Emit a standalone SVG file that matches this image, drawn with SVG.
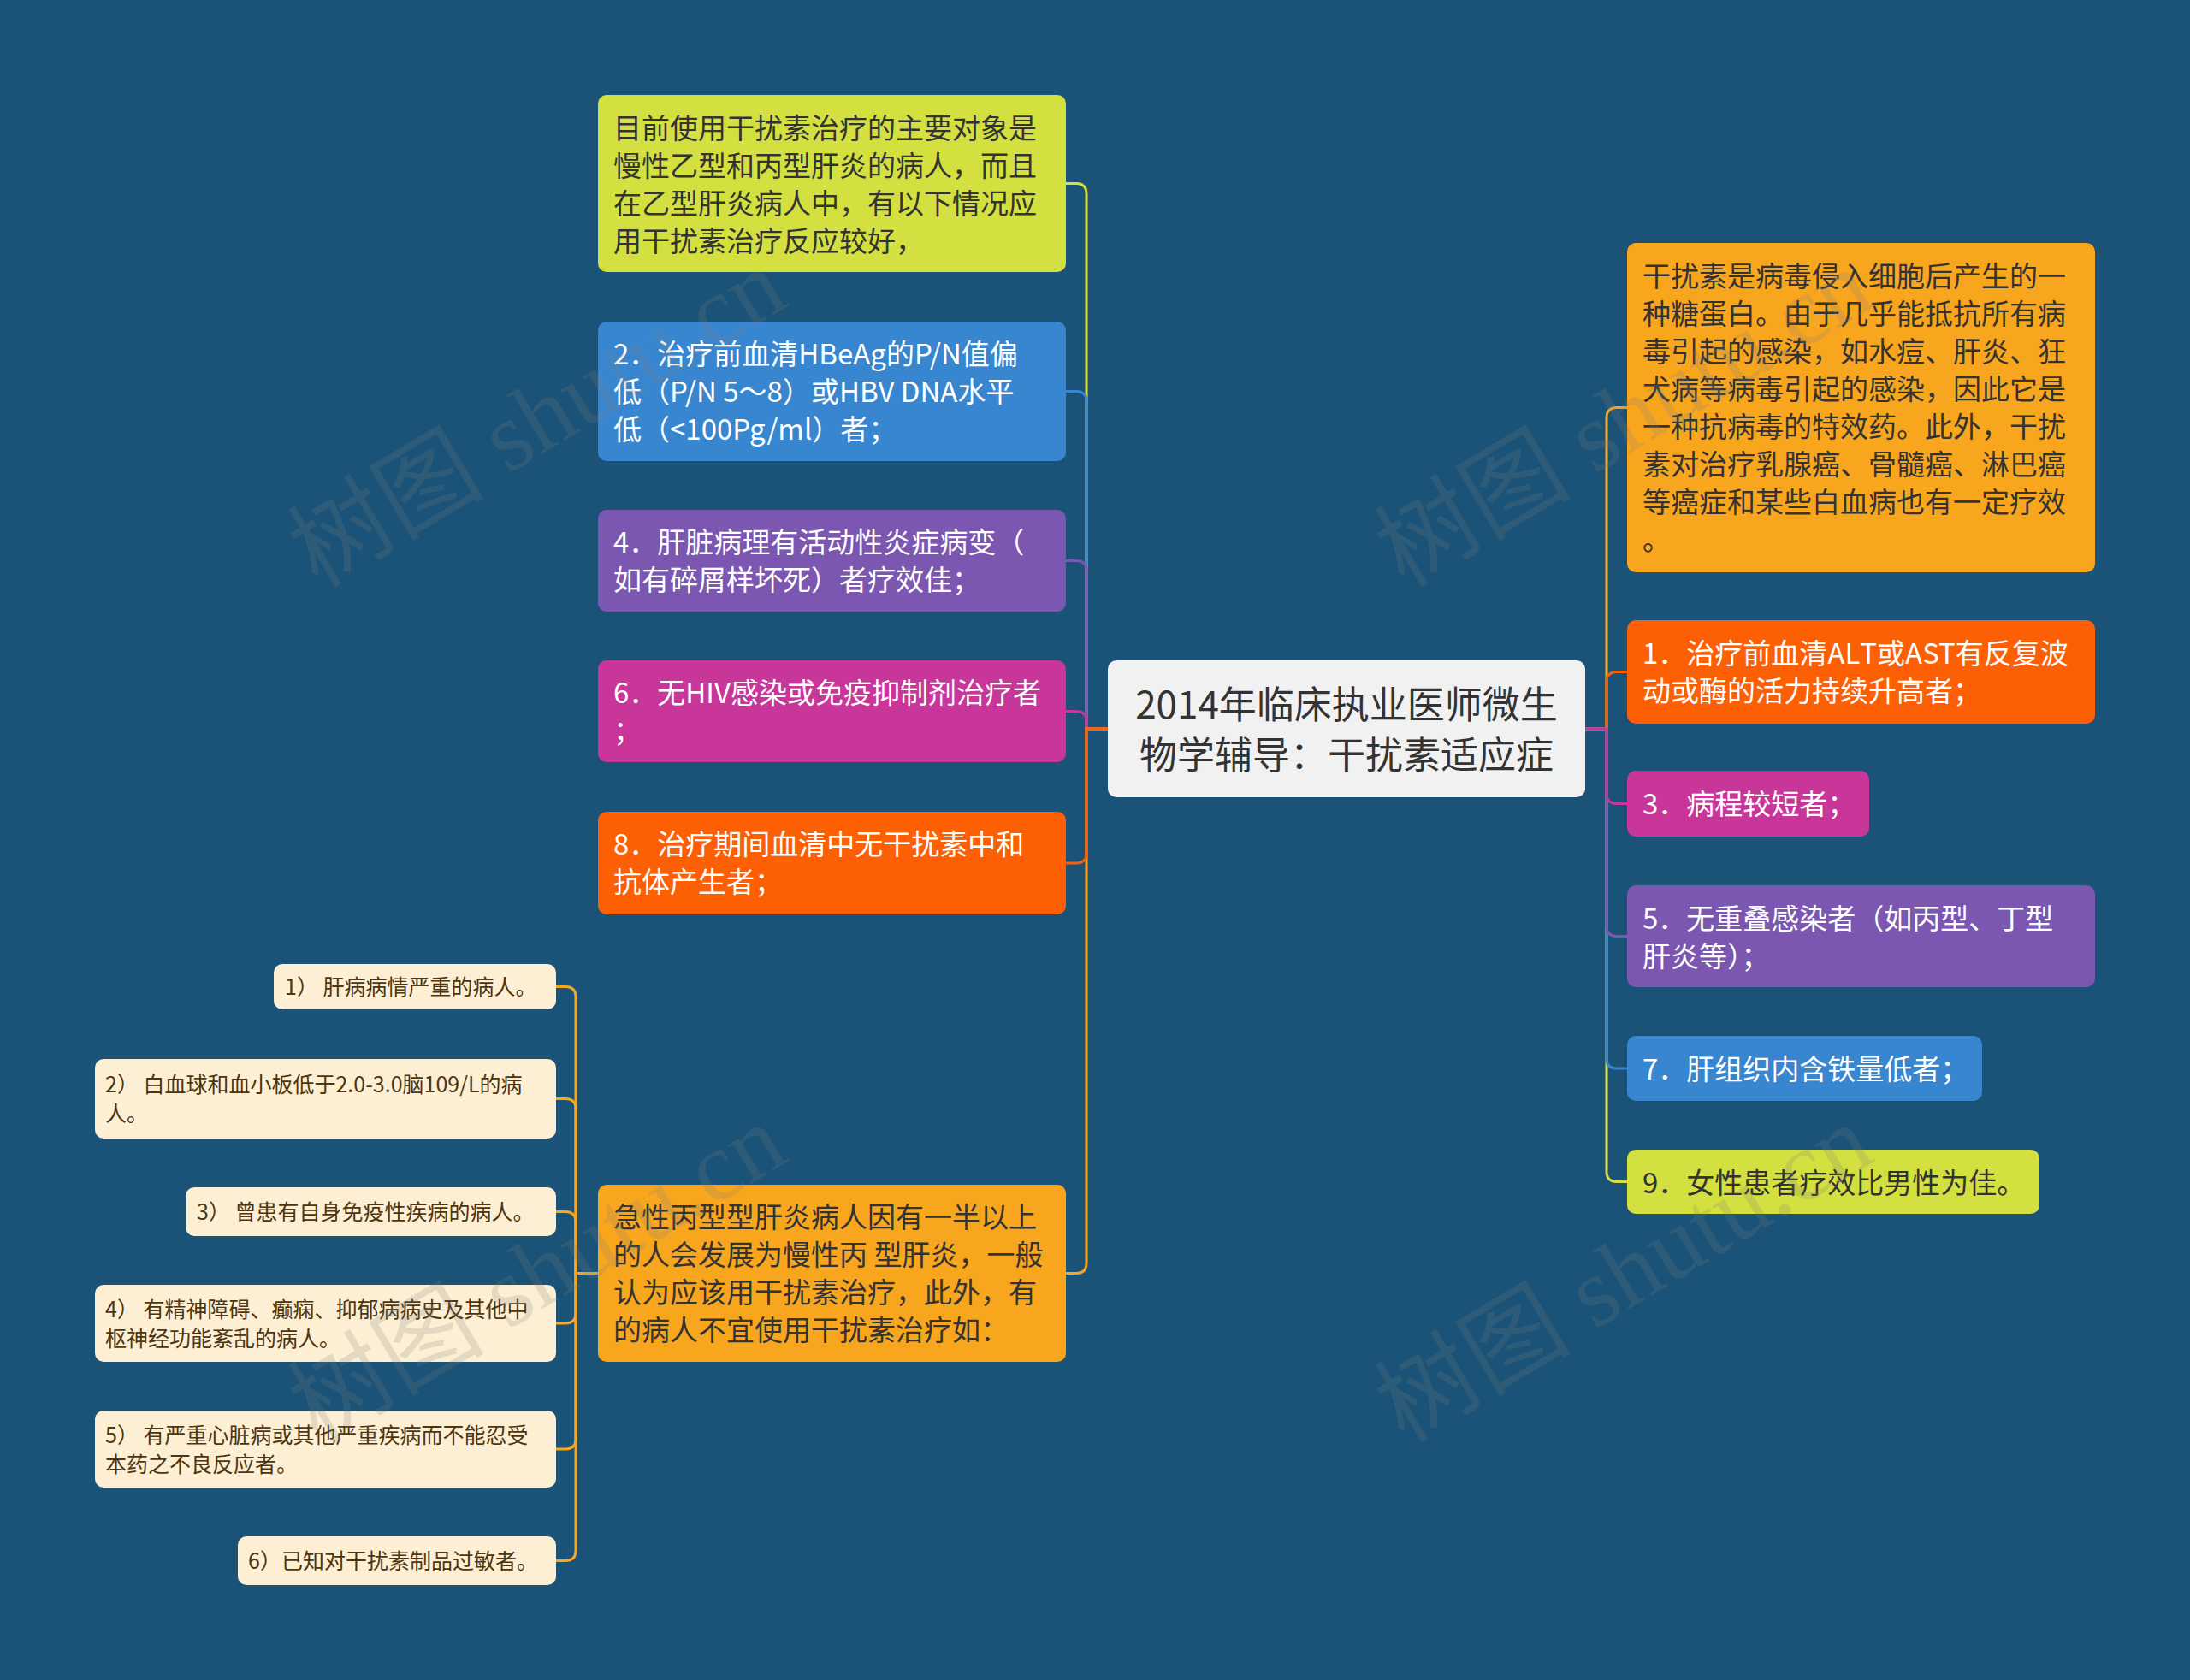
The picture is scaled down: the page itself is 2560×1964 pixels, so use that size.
<svg xmlns="http://www.w3.org/2000/svg" width="2560" height="1964" viewBox="0 0 2560 1964">
<style>
text{font-family:"Noto Sans CJK SC","Microsoft YaHei",sans-serif;}
.t33{font-size:33px;}
.t25{font-size:25px;fill:#4d3510;}
.dark{fill:#333333;}
.light{fill:#ffffff;}
.conn path{fill:none;stroke-width:3;}
.sub{fill:#fdefd4;}
.wm text{font-family:"Liberation Serif","Noto Sans CJK SC",serif;font-size:115px;fill:#808080;opacity:0.2;text-anchor:middle;}
</style>
<rect x="0" y="0" width="2560" height="1964" fill="#1a5377"/>

<g id="connectors" class="conn">
  <path stroke="#d4e03f" d="M1295 852 H1270 V226.5 Q1270 214.5 1258 214.5 H1246"/>
  <path stroke="#3886d0" d="M1295 852 H1270 V469.5 Q1270 457.5 1258 457.5 H1246"/>
  <path stroke="#7b57b1" d="M1295 852 H1270 V667.5 Q1270 655.5 1258 655.5 H1246"/>
  <path stroke="#c8369a" d="M1295 852 H1270 V843.5 Q1270 831.5 1258 831.5 H1246"/>
  <path stroke="#f9a61f" d="M1295 852 H1270 V1476.5 Q1270 1488.5 1258 1488.5 H1246"/>
  <path stroke="#fd5f04" d="M1295 852 H1270 V997 Q1270 1009 1258 1009 H1246"/>

  <path stroke="#f9a61f" d="M1853 852 H1878 V488.5 Q1878 476.5 1890 476.5 H1902"/>
  <path stroke="#fd5f04" d="M1853 852 H1878 V797.5 Q1878 785.5 1890 785.5 H1902"/>
  <path stroke="#d4e03f" d="M1853 852 H1878 V1369.5 Q1878 1381.5 1890 1381.5 H1902"/>
  <path stroke="#3886d0" d="M1853 852 H1878 V1237 Q1878 1249 1890 1249 H1902"/>
  <path stroke="#7b57b1" d="M1853 852 H1878 V1082.5 Q1878 1094.5 1890 1094.5 H1902"/>
  <path stroke="#c8369a" d="M1853 852 H1878 V927.5 Q1878 939.5 1890 939.5 H1902"/>

  <path stroke="#f9a61f" d="M699 1488.5 H673 V1165.5 Q673 1153.5 661 1153.5 H650"/>
  <path stroke="#f9a61f" d="M699 1488.5 H673 V1296.5 Q673 1284.5 661 1284.5 H650"/>
  <path stroke="#f9a61f" d="M699 1488.5 H673 V1428.5 Q673 1416.5 661 1416.5 H650"/>
  <path stroke="#f9a61f" d="M699 1488.5 H673 V1535 Q673 1547 661 1547 H650"/>
  <path stroke="#f9a61f" d="M699 1488.5 H673 V1682 Q673 1694 661 1694 H650"/>
  <path stroke="#f9a61f" d="M699 1488.5 H673 V1812.5 Q673 1824.5 661 1824.5 H650"/>
</g>

<g id="center">
  <rect x="1295" y="772" width="558" height="160" rx="10" fill="#f1f1f1"/>
  <text x="1574" y="840" font-size="44" fill="#333333" text-anchor="middle">2014年临床执业医师微生</text>
  <text x="1574" y="899" font-size="44" fill="#333333" text-anchor="middle">物学辅导：干扰素适应症</text>
</g>

<g id="L1">
  <rect x="699" y="111" width="547" height="207" rx="10" fill="#d4e03f"/>
  <text class="t33 dark" x="717" y="162">目前使用干扰素治疗的主要对象是</text>
  <text class="t33 dark" x="717" y="206">慢性乙型和丙型肝炎的病人，而且</text>
  <text class="t33 dark" x="717" y="250">在乙型肝炎病人中，有以下情况应</text>
  <text class="t33 dark" x="717" y="294">用干扰素治疗反应较好，</text>
</g>
<g id="L2">
  <rect x="699" y="376" width="547" height="163" rx="10" fill="#3886d0"/>
  <text class="t33 light" x="717" y="426">2．治疗前血清HBeAg的P/N值偏</text>
  <text class="t33 light" x="717" y="470">低（P/N 5～8）或HBV DNA水平</text>
  <text class="t33 light" x="717" y="514">低（&lt;100Pg/ml）者；</text>
</g>
<g id="L3">
  <rect x="699" y="596" width="547" height="119" rx="10" fill="#7b57b1"/>
  <text class="t33 light" x="717" y="646">4．肝脏病理有活动性炎症病变（</text>
  <text class="t33 light" x="717" y="690">如有碎屑样坏死）者疗效佳；</text>
</g>
<g id="L4">
  <rect x="699" y="772" width="547" height="119" rx="10" fill="#c8369a"/>
  <text class="t33 light" x="717" y="822">6．无HIV感染或免疫抑制剂治疗者</text>
  <text class="t33 light" x="717" y="866">；</text>
</g>
<g id="L5">
  <rect x="699" y="949" width="547" height="120" rx="10" fill="#fd5f04"/>
  <text class="t33 light" x="717" y="999">8．治疗期间血清中无干扰素中和</text>
  <text class="t33 light" x="717" y="1043">抗体产生者；</text>
</g>
<g id="L6">
  <rect x="699" y="1385" width="547" height="207" rx="10" fill="#f9a61f"/>
  <text class="t33 dark" x="717" y="1435">急性丙型型肝炎病人因有一半以上</text>
  <text class="t33 dark" x="717" y="1479">的人会发展为慢性丙 型肝炎，一般</text>
  <text class="t33 dark" x="717" y="1523">认为应该用干扰素治疗，此外，有</text>
  <text class="t33 dark" x="717" y="1567">的病人不宜使用干扰素治疗如：</text>
</g>

<g id="S1">
  <rect class="sub" x="320" y="1127" width="330" height="53" rx="10"/>
  <text class="t25" x="333" y="1163">1） 肝病病情严重的病人。</text>
</g>
<g id="S2">
  <rect class="sub" x="111" y="1238" width="539" height="93" rx="10"/>
  <text class="t25" x="123" y="1277">2） 白血球和血小板低于2.0-3.0脑109/L的病</text>
  <text class="t25" x="123" y="1311">人。</text>
</g>
<g id="S3">
  <rect class="sub" x="217" y="1388" width="433" height="57" rx="10"/>
  <text class="t25" x="230" y="1426">3） 曾患有自身免疫性疾病的病人。</text>
</g>
<g id="S4">
  <rect class="sub" x="111" y="1502" width="539" height="90" rx="10"/>
  <text class="t25" x="123" y="1539.5">4） 有精神障碍、癫痫、抑郁病病史及其他中</text>
  <text class="t25" x="123" y="1573.5">枢神经功能紊乱的病人。</text>
</g>
<g id="S5">
  <rect class="sub" x="111" y="1649" width="539" height="90" rx="10"/>
  <text class="t25" x="123" y="1686.5">5） 有严重心脏病或其他严重疾病而不能忍受</text>
  <text class="t25" x="123" y="1720.5">本药之不良反应者。</text>
</g>
<g id="S6">
  <rect class="sub" x="278" y="1796" width="372" height="57" rx="10"/>
  <text class="t25" x="290" y="1834">6）已知对干扰素制品过敏者。</text>
</g>

<g id="R1">
  <rect x="1902" y="284" width="547" height="385" rx="10" fill="#f9a61f"/>
  <text class="t33 dark" x="1920" y="335">干扰素是病毒侵入细胞后产生的一</text>
  <text class="t33 dark" x="1920" y="379">种糖蛋白。由于几乎能抵抗所有病</text>
  <text class="t33 dark" x="1920" y="423">毒引起的感染，如水痘、肝炎、狂</text>
  <text class="t33 dark" x="1920" y="467">犬病等病毒引起的感染，因此它是</text>
  <text class="t33 dark" x="1920" y="511">一种抗病毒的特效药。此外，干扰</text>
  <text class="t33 dark" x="1920" y="555">素对治疗乳腺癌、骨髓癌、淋巴癌</text>
  <text class="t33 dark" x="1920" y="599">等癌症和某些白血病也有一定疗效</text>
  <text class="t33 dark" x="1920" y="643">。</text>
</g>
<g id="R2">
  <rect x="1902" y="725" width="547" height="121" rx="10" fill="#fd5f04"/>
  <text class="t33 light" x="1920" y="776">1．治疗前血清ALT或AST有反复波</text>
  <text class="t33 light" x="1920" y="820">动或酶的活力持续升高者；</text>
</g>
<g id="R3">
  <rect x="1902" y="901" width="283" height="77" rx="10" fill="#c8369a"/>
  <text class="t33 light" x="1920" y="952">3．病程较短者；</text>
</g>
<g id="R4">
  <rect x="1902" y="1035" width="547" height="119" rx="10" fill="#7b57b1"/>
  <text class="t33 light" x="1920" y="1086">5．无重叠感染者（如丙型、丁型</text>
  <text class="t33 light" x="1920" y="1130">肝炎等）；</text>
</g>
<g id="R5">
  <rect x="1902" y="1211" width="415" height="76" rx="10" fill="#3886d0"/>
  <text class="t33 light" x="1920" y="1262">7．肝组织内含铁量低者；</text>
</g>
<g id="R6">
  <rect x="1902" y="1344" width="482" height="75" rx="10" fill="#d4e03f"/>
  <text class="t33 dark" x="1920" y="1395">9．女性患者疗效比男性为佳。</text>
</g>

<g class="wm">
  <text transform="translate(648,522) rotate(-31)">树图 shutu.cn</text>
  <text transform="translate(1918,522) rotate(-31)">树图 shutu.cn</text>
  <text transform="translate(648,1522) rotate(-31)">树图 shutu.cn</text>
  <text transform="translate(1918,1522) rotate(-31)">树图 shutu.cn</text>
</g>
</svg>
